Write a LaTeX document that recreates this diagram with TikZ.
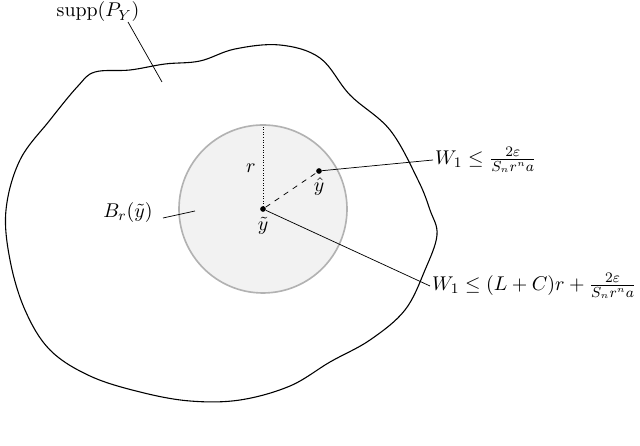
\documentclass[tikz,border=0pt]{standalone}
\begin{document}
\begin{tikzpicture}[x=0.55pt,y=-0.55pt,font=\fontsize{11}{13}\selectfont,lbl/.style={inner sep=1pt},dot/.style={circle,fill,inner sep=1.1pt}]
\useasboundingbox (0,0) rectangle (640,446);
\draw[line width=0.6pt] plot[smooth cycle,tension=0.6] coordinates{(95,72)(130,70)(165,64)(200,61)(235,49)(280,45)(320,58)(350,95)(390,130)(418,180)(430,210)(437,235)(425,270)(405,310)(370,340)(330,362)(290,386)(240,400)(190,401)(140,392)(90,376)(50,350)(25,310)(10,260)(6,210)(20,160)(50,120)(78,86)};
\node[circle,draw=black!30,line width=0.9pt,fill=black!5,minimum size=168*0.55pt,inner sep=0] (ball) at (263,209) {};
\coordinate (c) at (263,209);
\coordinate (top) at (263,126);
\draw[densely dotted] (c) -- (top);
\node[dot] (ct) at (c) {};
\node[dot] (yh) at (319,171) {};
\draw[dashed] (ct) -- (yh);
\node at (251,168) {$r$};
\node at (319,187) {$\hat y$};
\node at (263,226) {$\tilde y$};
\node[lbl] (s) at (98,12) {$\mathrm{supp}(P_Y)$};
\coordinate (s1) at (128,22); \coordinate (s2) at (162,82);
\draw (s1) -- (s2);
\node[lbl] (br) at (128,213) {$B_r(\tilde y)$};
\coordinate (b1) at (163,218); \coordinate (b2) at (195,211);
\draw (b1) -- (b2);
\node[lbl,anchor=west] (w1) at (433,160) {$W_1 \le \frac{2\varepsilon}{S_n r^n a}$};
\draw (yh) -- (w1.west);
\node[lbl,anchor=west] (w2) at (430,286) {$W_1 \le (L+C)r + \frac{2\varepsilon}{S_n r^n a}$};
\draw (ct) -- (w2.west);
\end{tikzpicture}
\end{document}
